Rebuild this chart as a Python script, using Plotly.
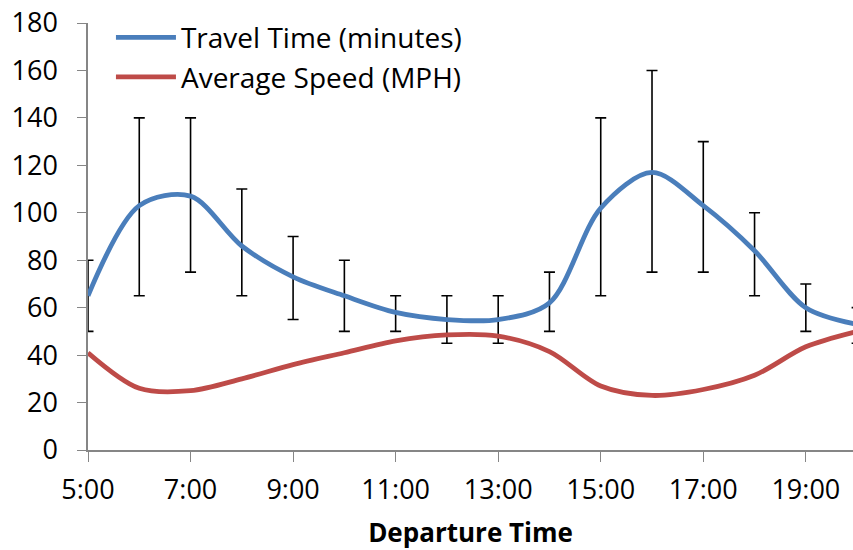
import plotly.graph_objects as go

hours = list(range(5, 21))
travel_time = [65, 103, 107, 86, 73, 65, 58, 55, 55, 62, 102, 117, 103, 84, 60, 53]
travel_high = [80, 140, 140, 110, 90, 80, 65, 65, 65, 75, 140, 160, 130, 100, 70, 60]
travel_low = [50, 65, 75, 65, 55, 50, 50, 45, 45, 50, 65, 75, 75, 65, 50, 45]
avg_speed = [41, 26, 25, 30, 36, 41, 46, 48.5, 48, 41.5, 27, 23, 25.5, 31.5, 43.5, 50]

tick_hours = [5, 7, 9, 11, 13, 15, 17, 19]
tick_labels = ["5:00", "7:00", "9:00", "11:00", "13:00", "15:00", "17:00", "19:00"]
y_ticks = [0, 20, 40, 60, 80, 100, 120, 140, 160, 180]

err_plus = [h - v for h, v in zip(travel_high, travel_time)]
err_minus = [v - l for l, v in zip(travel_low, travel_time)]

FONT = "Open Sans"
FS = 27

fig = go.Figure()
fig.add_trace(go.Scatter(
    x=hours, y=travel_time, mode="lines", name="Travel Time (minutes)",
    line=dict(color="#4A7EBB", width=4.8, shape="spline", smoothing=0.9),
    error_y=dict(type="data", symmetric=False, array=err_plus, arrayminus=err_minus,
                 color="black", thickness=1.6, width=5.5),
))
fig.add_trace(go.Scatter(
    x=hours, y=avg_speed, mode="lines", name="Average Speed (MPH)",
    line=dict(color="#BE4B48", width=4.8, shape="spline", smoothing=0.9),
))

fig.update_layout(
    width=853, height=550,
    margin=dict(l=88, r=0, t=23, b=100),
    paper_bgcolor="white", plot_bgcolor="white",
    font=dict(family=FONT, size=FS, color="black"),
    showlegend=True,
    legend=dict(x=0.03, y=1.024, xanchor="left", yanchor="top",
                bgcolor="rgba(0,0,0,0)", font=dict(size=28), itemwidth=60,
                tracegroupgap=0),
    xaxis=dict(range=[5, 19.92], tickvals=tick_hours, ticktext=tick_labels,
               automargin=False,
               showgrid=False, zeroline=False, showline=True, linecolor="#868686",
               linewidth=1.5, ticks="outside", ticklen=10, tickcolor="#868686",
               ticklabelstandoff=5, ticklabeloverflow="allow",
               tickfont=dict(size=FS), title=dict(text="<b>Departure Time</b>",
               font=dict(size=26), standoff=28)),
    yaxis=dict(range=[0, 180], tickvals=y_ticks, showgrid=False, zeroline=False,
               automargin=False,
               showline=True, linecolor="#868686", linewidth=1.5, ticks="outside",
               ticklen=9, tickcolor="#868686", ticklabelstandoff=14,
               ticklabeloverflow="allow", tickfont=dict(size=FS)),
)

fig.write_html("out.html", config={"displayModeBar": False},
               post_script="document.body.style.margin='0';document.body.style.overflow='hidden';")
